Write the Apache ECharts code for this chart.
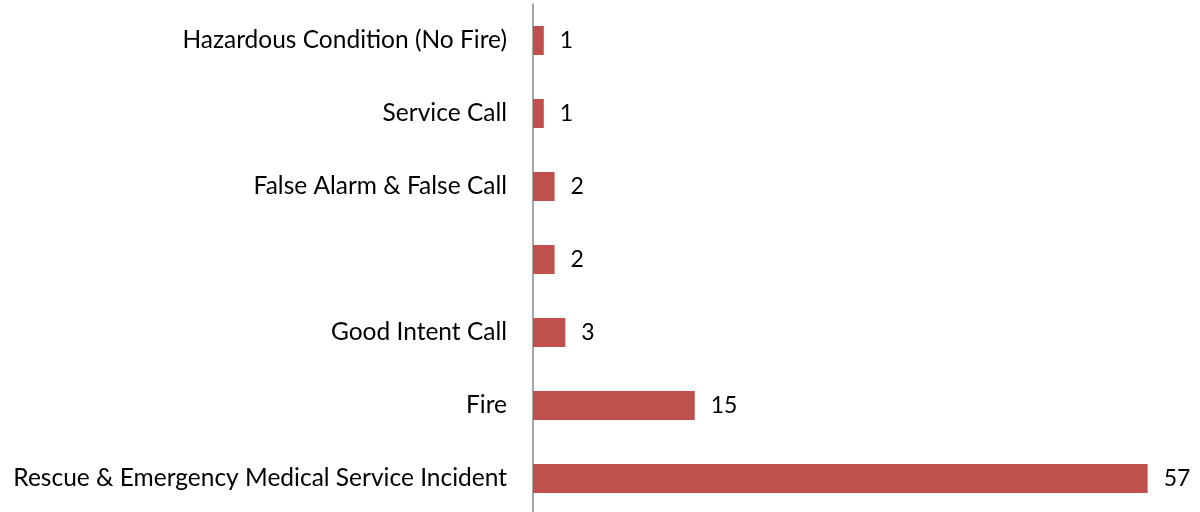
<!DOCTYPE html>
<html>
<head>
<meta charset="utf-8">
<script src="https://cdn.jsdelivr.net/npm/echarts@6/dist/echarts.min.js"></script>
<style>
  html, body { margin: 0; padding: 0; background: #fff; overflow: hidden; }
  #chart { width: 1200px; height: 518px; }
</style>
</head>
<body>
<div id="chart"></div>
<script>
// bottom to top, as drawn
const categories = [
  'Rescue & Emergency Medical Service Incident',
  'Fire',
  'Good Intent Call',
  '',
  'False Alarm & False Call',
  'Service Call',
  'Hazardous Condition (No Fire)'
]
const incidents = [57, 15, 3, 2, 2, 1, 1]

const chart = echarts.init(document.getElementById('chart'))
const font = 'Lato, "Open Sans", sans-serif'

chart.setOption({
  animation: false,
  grid: { left: 533, right: 20, top: 4, height: 511 },
  xAxis: {
    type: 'value',
    min: 0,
    max: 60,
    show: false
  },
  yAxis: {
    type: 'category',
    data: categories,
    axisLine: { show: true, lineStyle: { color: '#898989', width: 1.5 } },
    axisTick: { show: false },
    axisLabel: { color: '#000', fontSize: 24.5, fontFamily: font, margin: 26 }
  },
  series: [{
    type: 'bar',
    data: incidents,
    barWidth: 29,
    itemStyle: { color: '#C0504D' },
    label: {
      show: true,
      position: 'right',
      distance: 16,
      color: '#000',
      fontSize: 23,
      fontFamily: font
    }
  }]
})
</script>
</body>
</html>
